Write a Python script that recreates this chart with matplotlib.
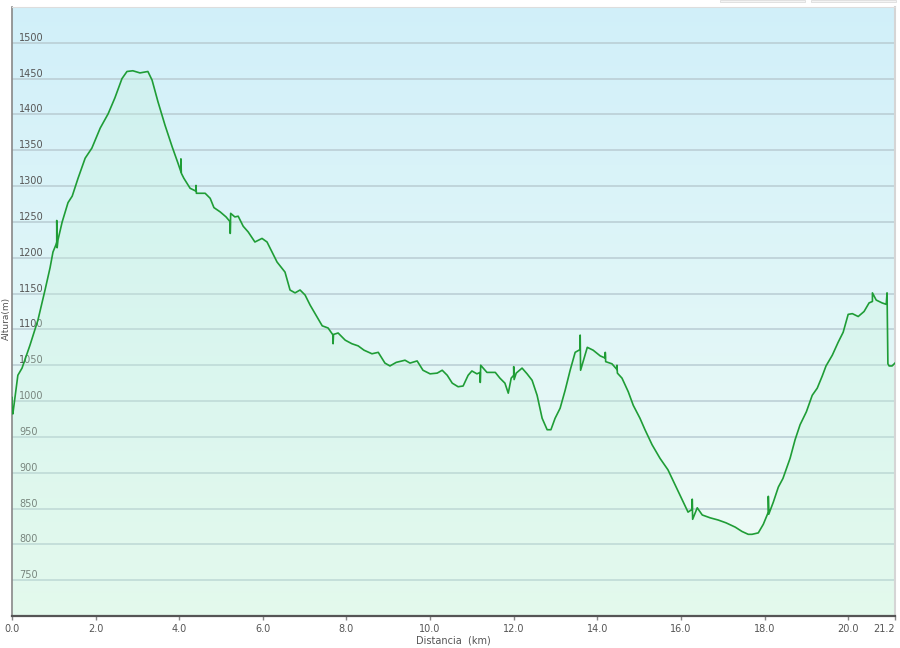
import numpy as np
import matplotlib
matplotlib.use("Agg")
import matplotlib.pyplot as plt
from matplotlib.patches import Rectangle

# Perfil de altura (distancia en km, altura en m)
dist_km = [0.00, 0.00, 0.02, 0.14, 0.24, 0.43, 0.62, 0.79, 0.91, 0.98, 1.05,
           1.07, 1.07, 1.08, 1.10, 1.20, 1.34, 1.44, 1.58, 1.75, 1.91, 2.11,
           2.30, 2.46, 2.63, 2.75, 2.89, 3.06, 3.25, 3.35, 3.49, 3.66, 3.83,
           3.97, 4.04, 4.04, 4.05, 4.11, 4.26, 4.40, 4.40, 4.41, 4.62, 4.74,
           4.83, 4.98, 5.12, 5.22, 5.22, 5.23, 5.33, 5.41, 5.53, 5.65, 5.81,
           5.98, 6.10, 6.22, 6.34, 6.53, 6.65, 6.77, 6.89, 7.01, 7.13, 7.27,
           7.42, 7.56, 7.68, 7.68, 7.69, 7.80, 7.97, 8.13, 8.28, 8.42, 8.61,
           8.76, 8.92, 9.04, 9.19, 9.40, 9.52, 9.69, 9.83, 10.00, 10.17, 10.29,
           10.41, 10.53, 10.67, 10.79, 10.91, 11.00, 11.12, 11.20, 11.20, 11.21,
           11.36, 11.56, 11.67, 11.79, 11.87, 11.94, 12.00, 12.00, 12.01, 12.06,
           12.20, 12.32, 12.44, 12.56, 12.68, 12.80, 12.89, 12.99, 13.11, 13.23,
           13.35, 13.47, 13.59, 13.59, 13.60, 13.76, 13.90, 14.07, 14.19, 14.19,
           14.20, 14.35, 14.47, 14.47, 14.48, 14.59, 14.74, 14.86, 15.02, 15.14,
           15.31, 15.50, 15.69, 15.86, 16.03, 16.17, 16.27, 16.27, 16.28, 16.39,
           16.51, 16.70, 16.89, 17.08, 17.30, 17.46, 17.61, 17.70, 17.85, 17.97,
           18.09, 18.09, 18.10, 18.21, 18.33, 18.44, 18.61, 18.73, 18.85, 19.00,
           19.14, 19.26, 19.38, 19.47, 19.62, 19.76, 19.88, 20.00, 20.10, 20.24,
           20.38, 20.50, 20.58, 20.58, 20.67, 20.81, 20.91, 20.93, 20.95, 20.98,
           21.05, 21.12]
altura_m = [1005, 990, 982, 1036, 1046, 1078, 1113, 1155, 1186, 1208, 1218,
            1222, 1252, 1214, 1225, 1250, 1277, 1286, 1311, 1339, 1353, 1381,
            1401, 1423, 1450, 1460, 1461, 1458, 1460, 1448, 1418, 1385, 1355,
            1332, 1320, 1338, 1318, 1311, 1297, 1293, 1301, 1290, 1290, 1283,
            1270, 1264, 1257, 1250, 1234, 1262, 1257, 1258, 1244, 1236, 1222,
            1227, 1222, 1208, 1194, 1180, 1155, 1151, 1155, 1148, 1134, 1120,
            1105, 1102, 1092, 1080, 1093, 1095, 1085, 1080, 1077, 1071, 1066,
            1068, 1053, 1049, 1054, 1057, 1053, 1056, 1043, 1038, 1039, 1043,
            1036, 1025, 1020, 1021, 1036, 1042, 1038, 1040, 1026, 1050,
            1040, 1040, 1032, 1025, 1011, 1032, 1036, 1048, 1030, 1039,
            1046, 1038, 1029, 1008, 976, 960, 960, 976, 990, 1015,
            1043, 1068, 1072, 1092, 1043, 1075, 1071, 1063, 1060, 1068,
            1055, 1052, 1044, 1050, 1039, 1032, 1013, 994, 976, 960,
            939, 920, 904, 883, 862, 845, 849, 863, 835, 851,
            841, 837, 834, 830, 824, 818, 814, 814, 816, 828,
            845, 867, 842, 859, 880, 892, 920, 946, 967, 985,
            1008, 1018, 1035, 1049, 1064, 1082, 1096, 1121, 1122, 1118,
            1125, 1137, 1139, 1151, 1141, 1137, 1135, 1151, 1052, 1049,
            1049, 1053]

x_ticks = [0, 2, 4, 6, 8, 10, 12, 14, 16, 18, 20, 21.12]
x_labels = ['0.0', '2.0', '4.0', '6.0', '8.0', '10.0', '12.0', '14.0',
            '16.0', '18.0', '20.0', '21.2']
y_ticks = [750, 800, 850, 900, 950, 1000, 1050, 1100, 1150, 1200, 1250,
           1300, 1350, 1400, 1450, 1500]

plt.rcParams['font.family'] = ['DejaVu Sans']

fig = plt.figure(figsize=(9, 6.48), dpi=100)
ax = fig.add_axes([12 / 900, 1 - 616 / 648, 883 / 900, 609 / 648])

x_max = dist_km[-1]
y_min, y_max = 700, 1550

# Fondo degradado: azul claro arriba, verde muy claro abajo
top_col = np.array([0.82, 0.94, 0.98])
bot_col = np.array([0.94, 0.99, 0.96])
t = np.linspace(0, 1, 256)[:, None]
grad = (top_col[None, :] * (1 - t) + bot_col[None, :] * t)[:, None, :]
grad = np.repeat(grad, 2, axis=1)
ax.imshow(grad, extent=[0, x_max, y_min, y_max], aspect='auto',
          origin='upper', zorder=0, interpolation='bilinear')

# Lineas de cuadricula
for yv in y_ticks:
    ax.axhline(yv, color='#b9ccd3', linewidth=1.1, zorder=1)

# Relleno bajo la curva y linea del perfil
ax.fill_between(dist_km, altura_m, y_min, color='#c8f4dc', alpha=0.3,
                linewidth=0, zorder=2)
ax.plot(dist_km, altura_m, color='#1f9d36', linewidth=1.2, zorder=3)

ax.set_xlim(0, x_max)
ax.set_ylim(y_min, y_max)

ax.set_xticks(x_ticks)
ax.set_xticklabels(x_labels)
ax.set_yticks(y_ticks)
ax.set_yticklabels([str(v) for v in y_ticks])

ax.tick_params(axis='x', direction='out', length=3, width=1, color='#888888',
               labelsize=7, labelcolor='#555555', pad=3)
ax.tick_params(axis='y', length=0, pad=-5, labelsize=7, labelcolor='#555555')
for lbl in ax.get_yticklabels():
    lbl.set_horizontalalignment('left')
    lbl.set_verticalalignment('bottom')
ax.get_xticklabels()[-1].set_horizontalalignment('right')

ax.spines['bottom'].set_color('#555555')
ax.spines['bottom'].set_linewidth(1.6)
ax.spines['left'].set_color('#888888')
ax.spines['left'].set_linewidth(1.2)
ax.spines['top'].set_color('#dddddd')
ax.spines['right'].set_color('#d5d5d5')
ax.spines['right'].set_linewidth(1.5)

ax.set_xlabel('Distancia  (km)', fontsize=7, color='#555555', labelpad=1)
fig.text(6 / 900, 1 - 318 / 648, 'Altura(m)', rotation=90, fontsize=6.5,
         color='#555555', ha='center', va='center')

# Botones superiores (bordes inferiores visibles)
fig.patches.append(Rectangle((720 / 900, 1 - 2 / 648), 85 / 900, 2 / 648,
                             transform=fig.transFigure, facecolor='#f4f4f4',
                             edgecolor='#dddddd', linewidth=0.6))
fig.patches.append(Rectangle((811 / 900, 1 - 2 / 648), 85 / 900, 2 / 648,
                             transform=fig.transFigure, facecolor='#f4f4f4',
                             edgecolor='#dddddd', linewidth=0.6))

fig.savefig('out.png', dpi=100)
